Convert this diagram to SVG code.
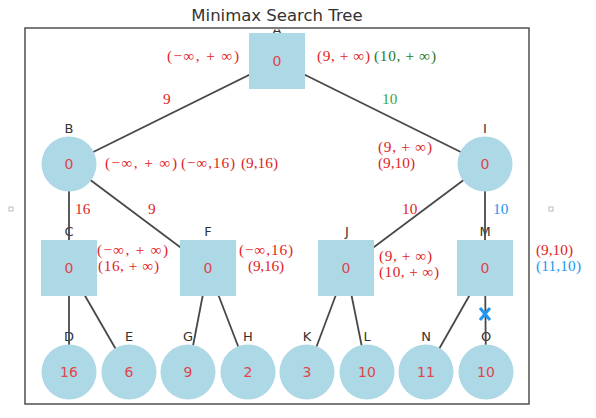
<svg xmlns="http://www.w3.org/2000/svg" width="596" height="418" viewBox="0 0 596 418">
<defs>
<style>
.title{font-family:"DejaVu Sans",sans-serif;font-size:16.5px;fill:#333;text-anchor:middle}
.nl{font-family:"DejaVu Sans",sans-serif;font-size:13px;fill:#333;text-anchor:middle}
.nv{font-family:"DejaVu Sans",sans-serif;font-size:14px;fill:#e0454d;text-anchor:middle}
.an{font-family:"Liberation Serif","DejaVu Serif",serif;font-size:15.3px;fill:#e02424}
.dg{fill:#1f7a1f}
.lg{fill:#3aa83a}
.bl{fill:#2196f3}
.node{fill:#add8e6}
.edge{stroke:#484848;stroke-width:1.8;fill:none}
</style>
<clipPath id="ax"><rect x="25" y="29.5" width="504" height="374"/></clipPath>
</defs>
<rect width="596" height="418" fill="#fff"/>
<text class="title" x="277" y="21">Minimax Search Tree</text>
<rect x="9" y="207" width="4" height="4" fill="none" stroke="#aaa" stroke-width="0.8"/>
<rect x="549" y="207" width="4" height="4" fill="none" stroke="#aaa" stroke-width="0.8"/>

<g id="labels">
<text class="nl" x="277" y="34" font-size="12" clip-path="url(#ax)">A</text>
<text class="nl" x="69" y="133">B</text>
<text class="nl" x="485" y="133">I</text>
<text class="nl" x="69" y="236">C</text>
<text class="nl" x="208" y="236">F</text>
<text class="nl" x="347" y="236">J</text>
<text class="nl" x="485" y="236">M</text>
<text class="nl" x="69" y="341">D</text>
<text class="nl" x="129" y="341">E</text>
<text class="nl" x="188" y="341">G</text>
<text class="nl" x="248" y="341">H</text>
<text class="nl" x="307" y="341">K</text>
<text class="nl" x="367" y="341">L</text>
<text class="nl" x="426" y="341">N</text>
<text class="nl" x="486" y="341">O</text>
</g>

<rect x="25" y="28" width="504" height="376" fill="none" stroke="#5a5a5a" stroke-width="1.6"/>

<g id="connectors">
<line class="edge" x1="277" y1="61" x2="69" y2="164"/>
<line class="edge" x1="277" y1="61" x2="485" y2="164"/>
<line class="edge" x1="69" y1="164" x2="69" y2="268"/>
<line class="edge" x1="69" y1="164" x2="208" y2="268"/>
<line class="edge" x1="485" y1="164" x2="346" y2="268"/>
<line class="edge" x1="485" y1="164" x2="485" y2="268"/>
<line class="edge" x1="69" y1="268" x2="69" y2="372"/>
<line class="edge" x1="69" y1="268" x2="129" y2="372"/>
<line class="edge" x1="208" y1="268" x2="188" y2="372"/>
<line class="edge" x1="208" y1="268" x2="248" y2="372"/>
<line class="edge" x1="346" y1="268" x2="307" y2="372"/>
<line class="edge" x1="346" y1="268" x2="367" y2="372"/>
<line class="edge" x1="485" y1="268" x2="426" y2="372"/>
<line class="edge" x1="485" y1="268" x2="486" y2="372"/>
<path d="M480,308 L490,320 M490,308 L480,320" stroke="#2196f3" stroke-width="3" fill="none"/>
</g>

<g id="A"><rect class="node" x="249" y="33" width="56" height="56"/><text class="nv" x="277" y="66">0</text></g>
<g id="B"><circle class="node" cx="69" cy="164" r="27.5"/><text class="nv" x="69" y="169">0</text></g>
<g id="I"><circle class="node" cx="485" cy="164" r="27.5"/><text class="nv" x="485" y="169">0</text></g>
<g id="C"><rect class="node" x="41" y="240" width="56" height="56"/><text class="nv" x="69" y="273">0</text></g>
<g id="F"><rect class="node" x="180" y="240" width="56" height="56"/><text class="nv" x="208" y="273">0</text></g>
<g id="J"><rect class="node" x="318" y="240" width="56" height="56"/><text class="nv" x="346" y="273">0</text></g>
<g id="M"><rect class="node" x="457" y="240" width="56" height="56"/><text class="nv" x="485" y="273">0</text></g>
<g id="D"><circle class="node" cx="69" cy="372" r="27.5"/><text class="nv" x="69" y="377">16</text></g>
<g id="E"><circle class="node" cx="129" cy="372" r="27.5"/><text class="nv" x="129" y="377">6</text></g>
<g id="G"><circle class="node" cx="188" cy="372" r="27.5"/><text class="nv" x="188" y="377">9</text></g>
<g id="H"><circle class="node" cx="248" cy="372" r="27.5"/><text class="nv" x="248" y="377">2</text></g>
<g id="K"><circle class="node" cx="307" cy="372" r="27.5"/><text class="nv" x="307" y="377">3</text></g>
<g id="L"><circle class="node" cx="367" cy="372" r="27.5"/><text class="nv" x="367" y="377">10</text></g>
<g id="N"><circle class="node" cx="426" cy="372" r="27.5"/><text class="nv" x="426" y="377">11</text></g>
<g id="O"><circle class="node" cx="486" cy="372" r="27.5"/><text class="nv" x="486" y="377">10</text></g>

<g id="annotations">
<text class="an" x="167" y="60.5" textLength="72" lengthAdjust="spacing">(−∞, + ∞)</text>
<text class="an" x="317" y="60.5" textLength="53" lengthAdjust="spacing">(9, + ∞)</text>
<text class="an dg" x="374" y="60.5" textLength="62" lengthAdjust="spacing">(10, + ∞)</text>
<text class="an" x="163" y="104">9</text>
<text class="an lg" x="382" y="104">10</text>
<text class="an" x="105" y="168" textLength="72" lengthAdjust="spacing">(−∞, + ∞)</text>
<text class="an" x="181" y="168" textLength="54" lengthAdjust="spacing">(−∞,16)</text>
<text class="an" x="241" y="168" textLength="37" lengthAdjust="spacing">(9,16)</text>
<text class="an" x="75" y="214">16</text>
<text class="an" x="148" y="214">9</text>
<text class="an" x="378" y="152" textLength="54" lengthAdjust="spacing">(9, + ∞)</text>
<text class="an" x="378" y="168" textLength="37" lengthAdjust="spacing">(9,10)</text>
<text class="an" x="402" y="214">10</text>
<text class="an bl" x="493" y="214">10</text>
<text class="an" x="97" y="255" textLength="71" lengthAdjust="spacing">(−∞, + ∞)</text>
<text class="an" x="98" y="270.5" textLength="61" lengthAdjust="spacing">(16, + ∞)</text>
<text class="an" x="239" y="255" textLength="54" lengthAdjust="spacing">(−∞,16)</text>
<text class="an" x="248" y="270.5" textLength="36" lengthAdjust="spacing">(9,16)</text>
<text class="an" x="379" y="260.5" textLength="53" lengthAdjust="spacing">(9, + ∞)</text>
<text class="an" x="379" y="277" textLength="60" lengthAdjust="spacing">(10, + ∞)</text>
<text class="an" x="536" y="254.5" textLength="37" lengthAdjust="spacing">(9,10)</text>
<text class="an bl" x="536" y="271" textLength="45" lengthAdjust="spacing">(11,10)</text>
</g>
</svg>
